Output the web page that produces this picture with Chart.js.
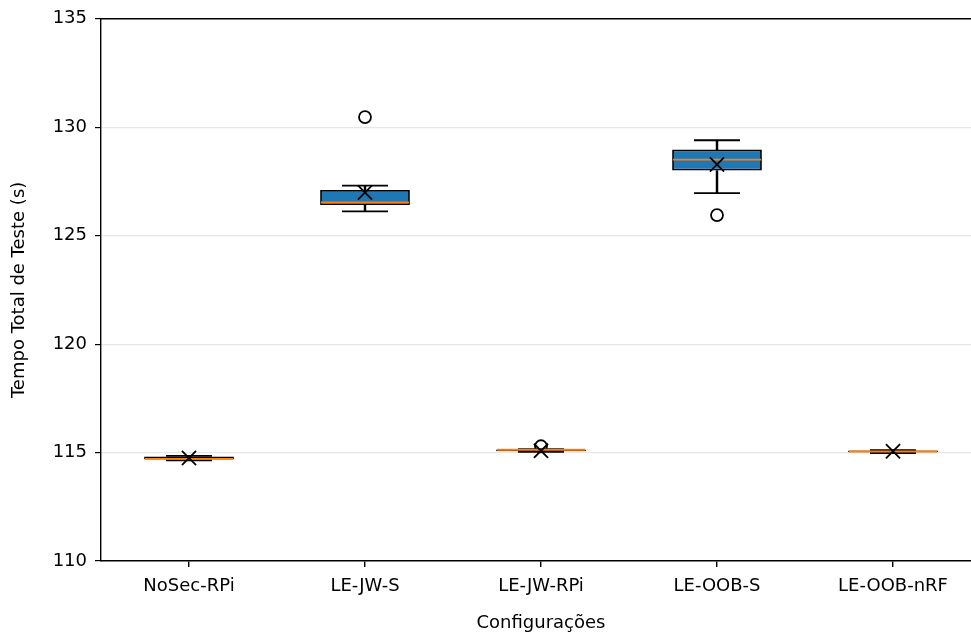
<!DOCTYPE html>
<html>
<head>
<meta charset="utf-8">
<script src="https://cdn.jsdelivr.net/npm/chart.js@4"></script>
<style>
    body { margin: 0; overflow: hidden; background: #fff; }
    #wrap { width: 990px; height: 636px; }
</style>
</head>
<body>
<div id="wrap"><canvas id="boxChart"></canvas></div>
<script>
const configs = ['NoSec-RPi', 'LE-JW-S', 'LE-JW-RPi', 'LE-OOB-S', 'LE-OOB-nRF'];
const whiskerLow = [114.64, 126.12, 115.03, 126.96, 114.98];
const q1 = [114.68, 126.41, 115.06, 128.00, 115.01];
const medians = [114.71, 126.53, 115.13, 128.51, 115.05];
const q3 = [114.82, 127.11, 115.14, 128.97, 115.09];
const whiskerHigh = [114.85, 127.31, 115.16, 129.40, 115.11];
const means = [114.75, 126.99, 115.08, 128.28, 115.06];
const outliers = [null, 130.47, 115.29, 125.95, null];
const yTicks = [110, 115, 120, 125, 130, 135];

const font = { family: 'DejaVu Sans', size: 18 };

function pointSet(data, style, radius, color, width, order) {
    return {
        type: 'line',
        data: data,
        showLine: false,
        pointStyle: style,
        pointRadius: radius,
        pointBackgroundColor: 'rgba(0,0,0,0)',
        pointBorderColor: color,
        pointBorderWidth: width,
        order: order
    };
}

document.addEventListener('DOMContentLoaded', function () {
    let ctx = document.getElementById('boxChart').getContext('2d');
    new Chart(ctx, {
        type: 'bar',
        data: {
            labels: configs,
            datasets: [
                {
                    data: configs.map((c, i) => [q1[i], q3[i]]),
                    backgroundColor: '#1f77b4',
                    borderColor: '#000',
                    borderWidth: 1.8,
                    borderSkipped: false,
                    barPercentage: 0.51,
                    categoryPercentage: 1,
                    grouped: false,
                    order: 5
                },
                {
                    data: configs.map((c, i) => [q3[i], whiskerHigh[i]]),
                    backgroundColor: '#000',
                    barThickness: 1.8,
                    grouped: false,
                    order: 6
                },
                {
                    data: configs.map((c, i) => [whiskerLow[i], q1[i]]),
                    backgroundColor: '#000',
                    barThickness: 1.8,
                    grouped: false,
                    order: 6
                },
                pointSet(whiskerHigh, 'line', 23, '#000', 1.8, 4),
                pointSet(whiskerLow, 'line', 23, '#000', 1.8, 4),
                pointSet(medians, 'line', 44, '#ff7f0e', 1.8, 2),
                pointSet(outliers, 'circle', 6, '#000', 1.8, 3),
                pointSet(means, 'crossRot', 10, '#000', 1.8, 1)
            ]
        },
        options: {
            responsive: true,
            maintainAspectRatio: false,
            animation: false,
            events: [],
            layout: { autoPadding: false, padding: { top: 15, right: 9, left: 0, bottom: 0 } },
            plugins: { legend: { display: false }, tooltip: { enabled: false } },
            scales: {
                x: {
                    offset: true,
                    grid: { offset: false, drawOnChartArea: false, tickColor: '#000', tickLength: 6, lineWidth: 1.4 },
                    border: { color: '#000', width: 1.4 },
                    ticks: { color: '#000', font: font, padding: 9 },
                    title: { display: true, text: 'Configurações', color: '#000', font: font, padding: { top: 4, bottom: 2 } },
                    afterFit: function (scale) { scale.height = 75; }
                },
                xTop: {
                    position: 'top',
                    labels: configs,
                    offset: true,
                    grid: { display: false },
                    border: { color: '#000', width: 1.4 },
                    ticks: { display: false },
                    afterFit: function (scale) { scale.height = 0; }
                },
                y: {
                    min: 110,
                    max: 135,
                    afterBuildTicks: function (scale) { scale.ticks = yTicks.map(v => ({ value: v })); },
                    grid: {
                        color: c => (c.tick && (c.tick.value === 110 || c.tick.value === 135)) ? 'rgba(0,0,0,0)' : '#e6e6e6',
                        lineWidth: 1.2,
                        tickColor: '#000',
                        tickLength: 6
                    },
                    border: { color: '#000', width: 1.4 },
                    ticks: { color: '#000', font: font, padding: 8 },
                    title: { display: true, text: 'Tempo Total de Teste (s)', color: '#000', font: font, padding: { top: 9, bottom: 0 } },
                    afterFit: function (scale) { scale.width = 101; }
                }
            }
        }
    });
});
</script>
</body>
</html>
